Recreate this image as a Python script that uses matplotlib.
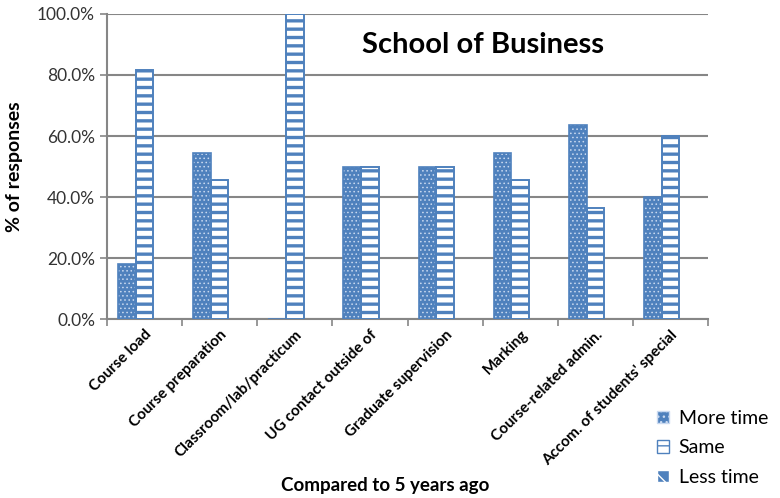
import matplotlib.pyplot as plt
import numpy as np
from matplotlib.patches import Patch
from matplotlib.ticker import PercentFormatter

plt.rcParams['font.family'] = ['Lato', 'DejaVu Sans']

categories = ["Course load", "Course preparation", "Classroom/lab/practicum",
              "UG contact outside of", "Graduate supervision", "Marking",
              "Course-related admin.", "Accom. of students' special"]
more_time = [18.2, 54.5, 0.0, 50.0, 50.0, 54.5, 63.6, 40.0]
same = [81.8, 45.5, 100.0, 50.0, 50.0, 45.5, 36.4, 60.0]
less_time = [0.0, 0.0, 0.0, 0.0, 0.0, 0.0, 0.0, 0.0]

blue = '#4F81BD'
grid_c = '#868686'

fig = plt.figure(figsize=(7.8, 4.98), dpi=100)
ax = fig.add_axes([0.137, 0.359, 0.771, 0.613])

x = np.arange(len(categories))
w = 0.235

# More time: blue fill with fine white dots, blue outline
plt.rcParams['hatch.linewidth'] = 0.6
ax.bar(x - w, more_time, w, color=blue, edgecolor='#c9d9f0', hatch='....', linewidth=0, zorder=3)
ax.bar(x - w, more_time, w, fill=False, edgecolor=blue, linewidth=1.2, zorder=4)
# Same: white fill with blue horizontal stripes
plt.rcParams['hatch.linewidth'] = 2.4
ax.bar(x, same, w, facecolor='white', edgecolor=blue, hatch='--', linewidth=1.4, zorder=3)
# Less time: blue with white diagonals
plt.rcParams['hatch.linewidth'] = 1.5
ax.bar(x + w, less_time, w, color=blue, edgecolor='white', hatch='\\\\', linewidth=0, zorder=3)

ax.set_xlim(-0.5, len(categories) - 0.5)
ax.set_ylim(0, 100)
ax.set_yticks(np.arange(0, 101, 20))
ax.yaxis.set_major_formatter(PercentFormatter(decimals=1))
ax.yaxis.grid(True, color=grid_c, linewidth=1.5, zorder=0)
ax.set_axisbelow(True)

ax.set_xticks(x)
ax.set_xticklabels(categories, rotation=45, ha='right', rotation_mode='anchor',
                   fontsize=11, fontweight='bold')
ax.set_xticks(np.arange(-0.5, len(categories), 1), minor=True)
ax.tick_params(axis='x', which='major', length=0, pad=6)
ax.tick_params(axis='x', which='minor', length=5, color=grid_c, width=1.2)
ax.tick_params(axis='y', length=5, color=grid_c, width=1.2, labelsize=12.5, labelcolor='#333333')

for s in ['top', 'right']:
    ax.spines[s].set_visible(False)
for s in ['left', 'bottom']:
    ax.spines[s].set_color(grid_c)
    ax.spines[s].set_linewidth(1.5)

ax.text(0.626, 0.898, "School of Business", transform=ax.transAxes, ha='center', va='center',
        fontsize=21, fontweight='bold')
ax.set_ylabel("% of responses", fontsize=14, fontweight='bold', labelpad=10)
fig.text(0.494, 0.026, "Compared to 5 years ago", ha='center', va='center',
         fontsize=13.5, fontweight='bold')

plt.rcParams['hatch.linewidth'] = 1.0
handles = [Patch(facecolor=blue, edgecolor='#c9d9f0', hatch='...', label='More time'),
           Patch(facecolor='white', edgecolor=blue, hatch='--', label='Same'),
           Patch(facecolor=blue, edgecolor='white', hatch='\\\\', label='Less time')]
fig.legend(handles=handles, loc='upper left', bbox_to_anchor=(0.83, 0.197),
           frameon=False, fontsize=14, handlelength=0.6, handleheight=0.6,
           handletextpad=0.5, labelspacing=0.65, borderpad=0)

fig.savefig("out.png", dpi=100)
